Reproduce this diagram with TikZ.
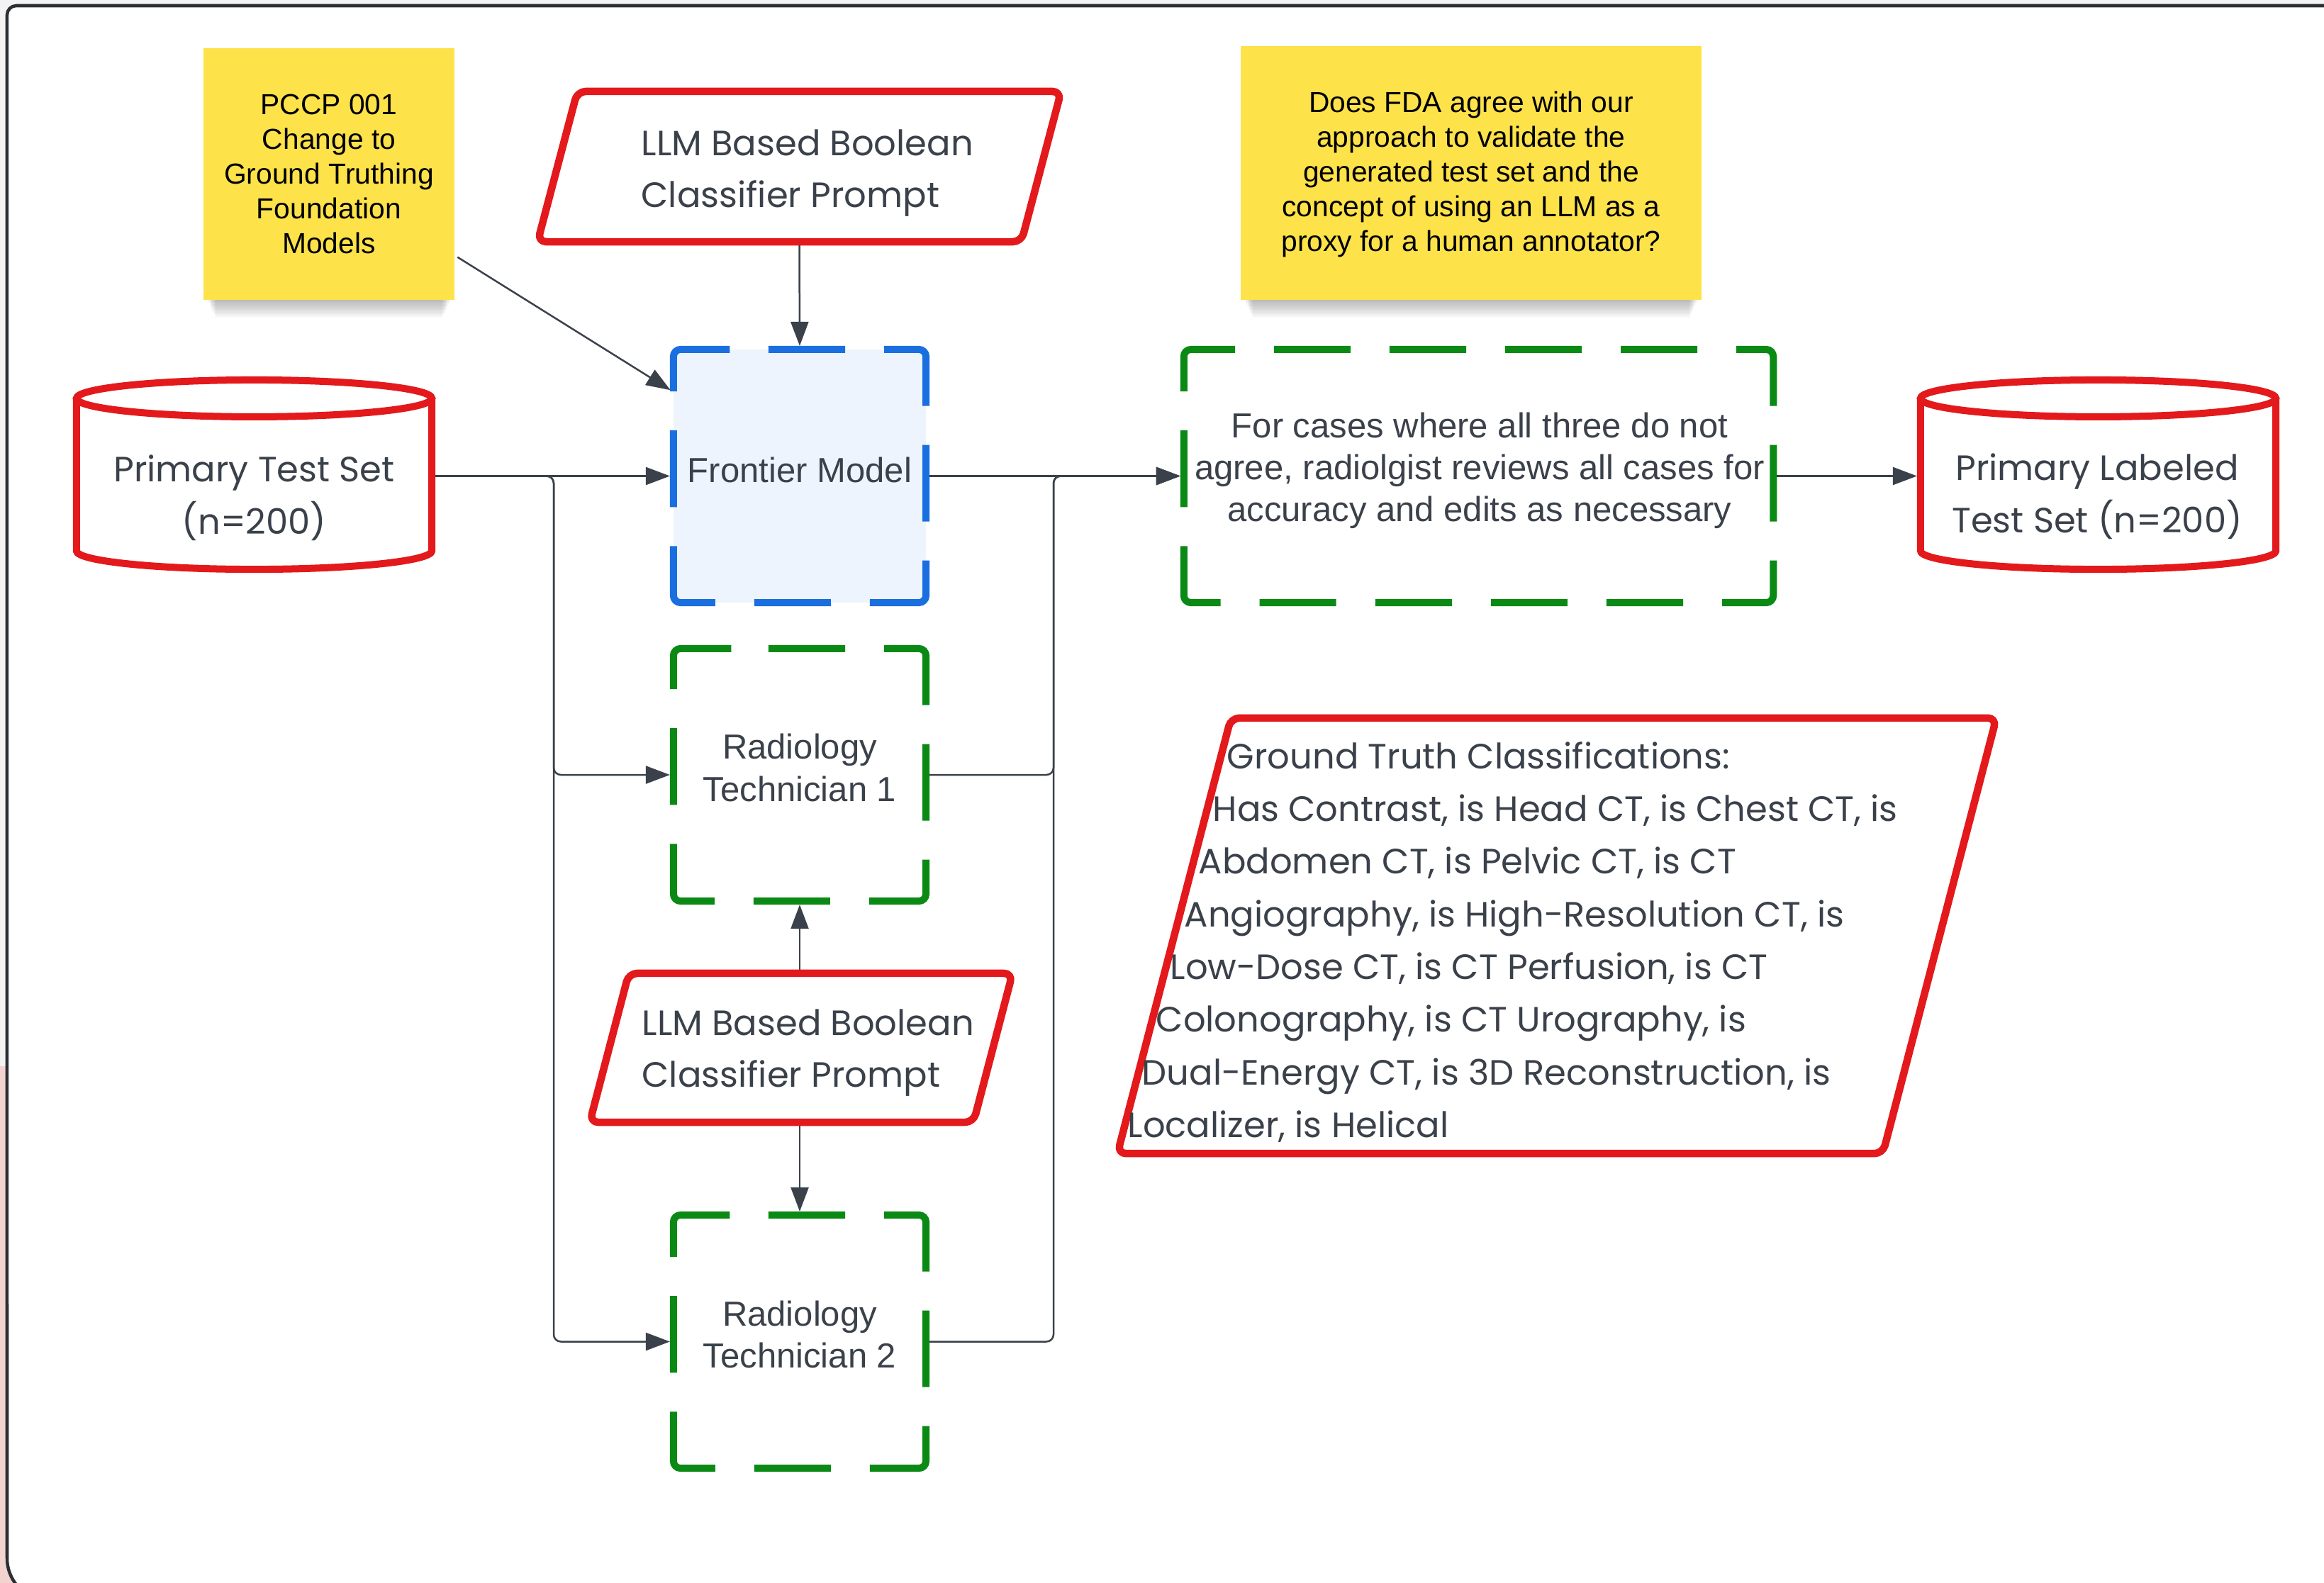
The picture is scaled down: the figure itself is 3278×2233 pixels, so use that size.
\documentclass[tikz,border=0pt]{standalone}
\usepackage{fontspec}
\setmainfont{Liberation Sans}
\newfontfamily\popfont{Poppins}
\newfontfamily\arifont{Liberation Sans}
\usetikzlibrary{arrows.meta}
\definecolor{txtc}{HTML}{3A414A}
\definecolor{redc}{HTML}{E3191C}
\definecolor{greenc}{HTML}{0A8A14}
\definecolor{bluec}{HTML}{1A6FE0}
\definecolor{bluefill}{HTML}{EDF4FD}
\definecolor{stickyc}{HTML}{FDE24A}
\definecolor{framec}{HTML}{2B2F33}
\definecolor{outbg}{HTML}{F3F3F3}
\definecolor{pinkbg}{HTML}{F2D3CF}

\newcommand\drawcyl[1]{%
  \draw[cylline] ([yshift=-0.26cm]#1.north west) -- ([yshift=0.26cm]#1.south west)
    arc[start angle=180, end angle=360, x radius=2.505cm, y radius=0.26cm]
    -- ([yshift=-0.26cm]#1.north east);
  \draw[cylline] ([yshift=-0.26cm]#1.north) ellipse [x radius=2.505cm, y radius=0.26cm];
}
\newcommand\drawpara[2]{%
  \draw[paraline] ([xshift=#2]#1.north west) -- ([xshift=#2]#1.north east)
    -- ([xshift=-#2]#1.south east) -- ([xshift=-#2]#1.south west) -- cycle;
}
\newcommand\drawdash[3]{%
  \draw[#2] ([xshift=#3]#1.north west) -- (#1.north east) -- (#1.south east)
    -- (#1.south west) -- (#1.north west) -- cycle;
}
\newcommand\stickyshadow[1]{%
  \foreach \i in {1,...,10}{%
    \fill[black, opacity=0.028] ([xshift=0.05cm+\i*0.012cm, yshift=0.08cm]#1.south west)
      rectangle ([xshift=-0.05cm-\i*0.012cm, yshift=-\i*0.025cm]#1.south east);
  }%
}

\begin{document}
\begin{tikzpicture}[x=0.01cm, y=-0.01cm,
  holder/.style={rectangle, inner sep=0pt, outer sep=0pt},
  stickynote/.style={holder, fill=stickyc, text=black, align=center,
    font=\arifont\fontsize{11.6pt}{13.95pt}\selectfont},
  cylline/.style={draw=redc, line width=0.1cm},
  paraline/.style={draw=redc, line width=0.105cm, rounded corners=0.12cm, line join=round},
  smalldash/.style={line width=0.1cm, rounded corners=0.1cm,
    dash pattern=on 1.08cm off 0.55cm on 1.342cm off 0.55cm},
  bigdash/.style={draw=greenc, line width=0.1cm, rounded corners=0.1cm,
    dash pattern=on 1.08cm off 0.55cm on 1.08cm off 0.55cm on 1.08cm off 0.55cm on 1.08cm off 0.55cm on 1.272cm off 0.55cm on 1.08cm off 0.55cm on 1.272cm off 0.55cm},
  bluedash/.style={smalldash, draw=bluec},
  greendash/.style={smalldash, draw=greenc},
  conn/.style={draw=txtc, line width=0.025cm, shorten <=0.05cm},
  arr/.style={conn, -{Triangle[length=0.34cm, width=0.25cm]}, shorten >=0.05cm},
  boxtext/.style={text=txtc, align=center, inner sep=0pt,
    font=\arifont\fontsize{13.94pt}{16.8pt}\selectfont},
  poptext/.style={text=txtc, align=center, inner sep=0pt,
    font=\popfont\fontsize{14.1pt}{20.9pt}\selectfont},
  gttext/.style={text=txtc, align=left, inner sep=0pt,
    font=\popfont\fontsize{14.1pt}{21.15pt}\selectfont}
]
\useasboundingbox (0,0) rectangle (3278,2233);
% background and frame
\fill[outbg] (0,0) rectangle (3278,2233);
\fill[pinkbg] (0,1504) rectangle (60,2233);
\filldraw[fill=white, draw=framec, line width=0.045cm]
  (3400,8) -- (23,8) arc[start angle=90, end angle=180, radius=0.13cm]
  -- (10,2198) arc[start angle=180, end angle=270, radius=0.6cm]
  -- (3400,2258) -- cycle;

% sticky notes
\path (464,245.5) node[holder, minimum width=3.54cm, minimum height=3.55cm] (pccpS) {};
\path (2075,244) node[holder, minimum width=6.5cm, minimum height=3.58cm] (fdaS) {};
\stickyshadow{pccpS}
\stickyshadow{fdaS}
\node[stickynote, minimum width=3.54cm, minimum height=3.55cm] (pccp) at (464,245.5)
  {PCCP 001\\Change to\\Ground Truthing\\Foundation\\Models};
\node[stickynote, minimum width=6.5cm, minimum height=3.58cm, text depth=0.04cm] (fda) at (2075,244)
  {Does FDA agree with our\\approach to validate the\\generated test set and the\\concept of using an LLM as a\\proxy for a human annotator?};

% shapes
\node[holder, minimum width=6.82cm, minimum height=2.12cm] (p1) at (1127.5,235) {};
\drawpara{p1}{0.28cm}
\node[holder, minimum width=5.41cm, minimum height=2.10cm] (p2) at (1130,1478) {};
\drawpara{p2}{0.275cm}
\node[holder, minimum width=10.79cm, minimum height=6.14cm] (gt) at (2196,1320) {};
\drawpara{gt}{0.8cm}

\node[holder, fill=bluefill, minimum width=3.56cm, minimum height=3.57cm] (front) at (1128,671.5) {};
\drawdash{front}{bluedash}{1.24cm}
\node[holder, minimum width=3.56cm, minimum height=3.56cm] (rt1) at (1128,1093) {};
\drawdash{rt1}{greendash}{1.24cm}
\node[holder, minimum width=3.56cm, minimum height=3.57cm] (rt2) at (1128,1892.5) {};
\drawdash{rt2}{greendash}{1.24cm}
\node[holder, minimum width=8.31cm, minimum height=3.57cm] (big) at (2085.5,671.5) {};
\drawdash{big}{bigdash}{1.17cm}

\node[holder, minimum width=5.01cm, minimum height=2.67cm] (ptest) at (358.5,669.5) {};
\drawcyl{ptest}
\node[holder, minimum width=5.01cm, minimum height=2.67cm] (plab) at (2959.5,669.5) {};
\drawcyl{plab}

% connectors
\coordinate (jl) at (781,671.5);
\coordinate (jr) at (1486,671.5);
\draw[arr] (p1.south) -- (front.north);
\draw[arr] ([yshift=0.63cm]pccp.south east) -- ([yshift=-0.6cm]front.north west);
\draw[arr] (ptest.east |- front.west) -- (front.west);
\draw[arr, rounded corners=0.1cm] (ptest.east |- front.west) -- (jl) |- (rt1.west);
\draw[arr, rounded corners=0.1cm] (ptest.east |- front.west) -- (jl) |- (rt2.west);
\draw[arr] (front.east) -- (big.west);
\draw[arr, rounded corners=0.1cm] (rt1.east) -| (jr) -- (big.west);
\draw[arr, rounded corners=0.1cm] (rt2.east) -| (jr) -- (big.west);
\draw[arr] (big.east) -- (plab.west |- big.east);
\draw[arr] (rt1.south |- p2.north) -- (rt1.south);
\draw[arr] (rt2.north |- p2.south) -- (rt2.north);

% texts
\node[boxtext] (frontT) at (1128,663) {Frontier Model};
\node[boxtext] (rt1T) at (1128,1083) {Radiology\\Technician 1};
\node[boxtext] (rt2T) at (1128,1882) {Radiology\\Technician 2};
\node[boxtext] (bigT) at (2087,664) {For cases where all three do not\\agree, radiolgist reviews all cases for\\accuracy and edits as necessary};
\node[poptext] (ptestT) at (358.5,702) {Primary Test Set\\(n=200)};
\node[poptext] (plabT) at (2958,700) {Primary Labeled\\Test Set (n=200)};
\node[poptext, align=left, anchor=west] (p1T) at (904,244) {LLM Based Boolean\\Classifier Prompt};
\node[poptext, align=left, anchor=west] (p2T) at (905,1485) {LLM Based Boolean\\Classifier Prompt};
\node[gttext, anchor=west] (gtT) at (1590,1329) {%
\hspace*{14mm}Ground Truth Classifications:\\
\hspace*{12mm}Has Contrast, is Head CT, is Chest CT, is\\
\hspace*{10mm}Abdomen CT, is Pelvic CT, is CT\\
\hspace*{8mm}Angiography, is High-Resolution CT, is\\
\hspace*{6mm}Low-Dose CT, is CT Perfusion, is CT\\
\hspace*{4mm}Colonography, is CT Urography, is\\
\hspace*{2mm}Dual-Energy CT, is 3D Reconstruction, is\\
Localizer, is Helical};
\end{tikzpicture}
\end{document}
